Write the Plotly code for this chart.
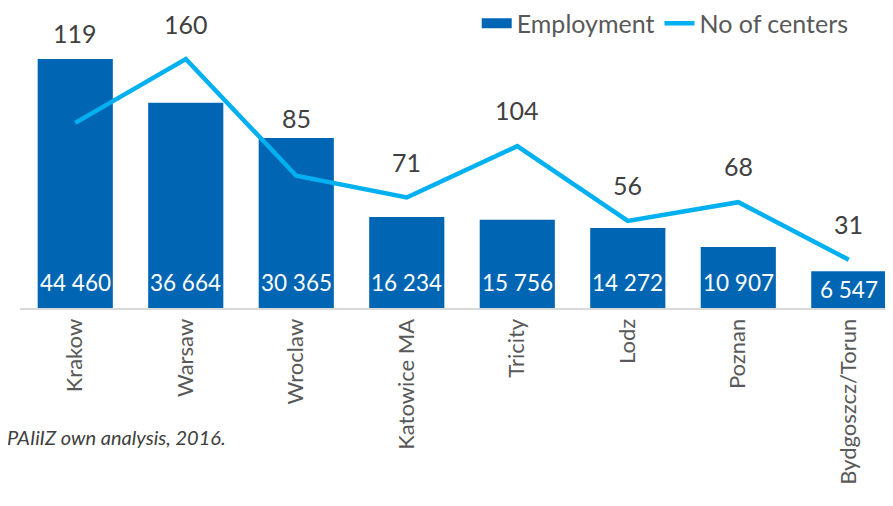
import plotly.graph_objects as go

cities = ["Krakow", "Warsaw", "Wroclaw", "Katowice MA", "Tricity", "Lodz", "Poznan", "Bydgoszcz/Torun"]
employment = [44460, 36664, 30365, 16234, 15756, 14272, 10907, 6547]
centers = [119, 160, 85, 71, 104, 56, 68, 31]
emp_labels = ["44 460", "36 664", "30 365", "16 234", "15 756", "14 272", "10 907", "6 547"]

BAR = "#0066b3"
LINE = "#00b0f0"
GREY_TXT = "#595959"
FONT = "Lato"

fig = go.Figure()
fig.add_trace(go.Bar(x=cities, y=employment, name="Employment", showlegend=False,
                     marker=dict(color=BAR, line=dict(width=0))))
# legend-only entry, drawn as a thick line so the swatch is a wide block like the original
fig.add_trace(go.Scatter(x=[None], y=[None], name="Employment", mode="lines",
                         line=dict(color=BAR, width=14)))
fig.add_trace(go.Scatter(x=cities, y=centers, name="No of centers", yaxis="y2",
                         mode="lines", line=dict(color=LINE, width=4.5)))

# labels over the line points (Krakow and Wroclaw ones sit above their bars)
label_shift = {0: 90, 1: 35, 2: 58}
for i, (c, v) in enumerate(zip(cities, centers)):
    fig.add_annotation(x=c, y=v, yref="y2", text=str(v), showarrow=False,
                       yanchor="middle", yshift=label_shift.get(i, 36),
                       font=dict(family=FONT, size=25, color="#404040"))

# employment labels at the bar base
for i, (c, t) in enumerate(zip(cities, emp_labels)):
    fig.add_annotation(x=c, y=0, yref="y", text=t, showarrow=False,
                       yanchor="middle", yshift=19 if i == len(cities) - 1 else 26,
                       font=dict(family=FONT, size=22.5, color="#ffffff"))

fig.add_annotation(xref="paper", yref="paper", x=(228 - 20) / 873, y=-0.43,
                   xanchor="right", yanchor="middle", showarrow=False,
                   text="<i>PAIiIZ own analysis, 2016.</i>",
                   font=dict(family=FONT, size=20, color="#404040"))

# the page adds an 8px body margin, so the margins below are offset to compensate
fig.update_layout(
    width=893, height=506,
    margin=dict(l=12, r=8, t=0, b=206, autoexpand=False),
    paper_bgcolor="white", plot_bgcolor="white",
    font=dict(family=FONT, color=GREY_TXT),
    bargap=0.32,
    showlegend=True,
    legend=dict(orientation="h", xanchor="right", x=0.955, yanchor="top", y=1.025,
                font=dict(family=FONT, size=25, color=GREY_TXT),
                bgcolor="rgba(0,0,0,0)", tracegroupgap=0),
    xaxis=dict(range=[-0.5, 7.4], tickangle=-90, showgrid=False, automargin=False,
               showline=True, linecolor="#d9d9d9", linewidth=2,
               tickfont=dict(family=FONT, size=22, color=GREY_TXT), ticks=""),
    yaxis=dict(range=[0, 53570], visible=False, showgrid=False, automargin=False),
    yaxis2=dict(range=[0, 192.8], overlaying="y", side="right", visible=False,
                showgrid=False, automargin=False),
)

fig.write_html("out.html")
